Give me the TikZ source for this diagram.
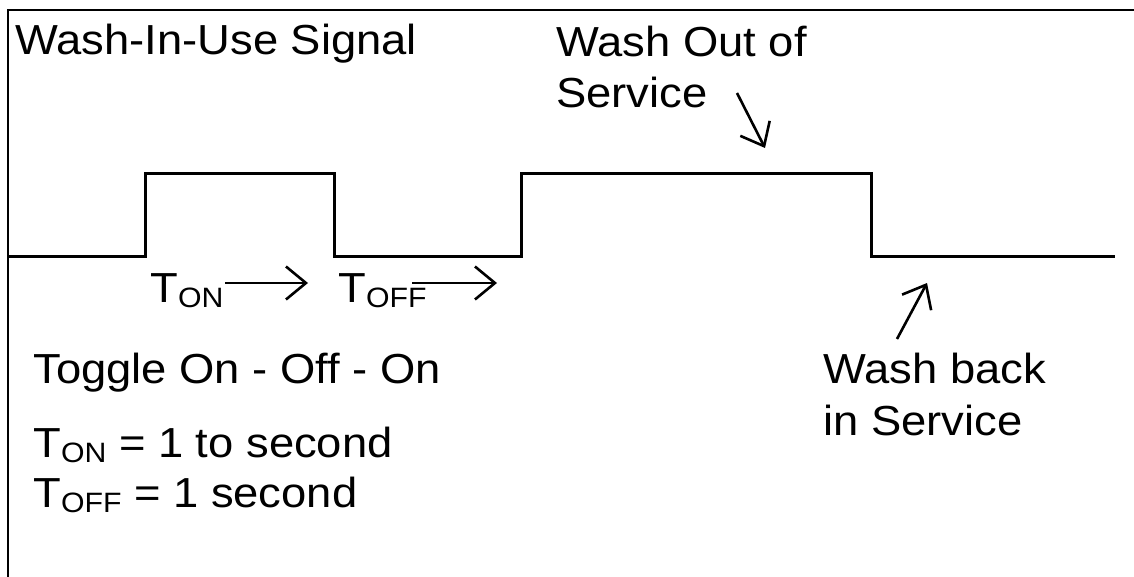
\documentclass[tikz,border=0pt]{standalone}
\usepackage{fontspec}
\setmainfont[FakeStretch=1.08]{Liberation Sans}
\usepackage{tikz}
\usetikzlibrary{arrows.meta}
\newcommand{\lbltxt}{\fontsize{21}{25.5}\selectfont}
\newcommand{\subtxt}[1]{\raisebox{-2.5pt}{\fontsize{14}{14}\selectfont #1}}
\tikzset{
  lbl/.style={anchor=base west, inner sep=0pt, font=\lbltxt},
  wave/.style={line width=1.5pt, line join=miter},
  pointer/.style={line width=1.3pt, -{Straight Barb[length=10pt,width=16.5pt,line width=1.3pt]}}
}

\begin{document}
\begin{tikzpicture}[x=0.5pt,y=-0.5pt]
\useasboundingbox (0,0) rectangle (1134,577);
% frame
\draw[line width=1pt] (8,577) -- (8,10) -- (1134,10);
% signal
\coordinate (s0) at (8,256);
\coordinate (s1) at (145,256);
\coordinate (s2) at (145,174);
\coordinate (s3) at (334,174);
\coordinate (s4) at (334,256);
\coordinate (s5) at (521,256);
\coordinate (s6) at (521,174);
\coordinate (s7) at (871,174);
\coordinate (s8) at (871,256);
\coordinate (s9) at (1115,256);
\draw[wave] (s0) -- (s1) -- (s2) -- (s3) -- (s4) -- (s5) -- (s6) -- (s7) -- (s8) -- (s9);
% labels
\node[lbl] (title) at (15,55) {Wash-In-Use Signal};
\node[lbl] (outa) at (556,57) {Wash Out of};
\node[lbl] (outb) at (556,108) {Service};
\node[lbl] (ton) at (150,302) {T\subtxt{ON}};
\node[lbl] (toff) at (338,302) {T\subtxt{OFF}};
\node[lbl] (toggle) at (33,383) {Toggle On - Off - On};
\node[lbl] (eqon) at (33,457) {T\subtxt{ON} = 1 to second};
\node[lbl] (eqoff) at (33,507) {T\subtxt{OFF} = 1 second};
\node[lbl] (backa) at (823,383) {Wash back};
\node[lbl] (backb) at (823,435) {in Service};
% arrows
\coordinate (a1s) at (225,283);
\coordinate (a1e) at (308,283);
\coordinate (a2s) at (412,283);
\coordinate (a2e) at (497,283);
\coordinate (o1) at (737,93);
\coordinate (o2) at (765,148);
\coordinate (b1) at (897,339);
\coordinate (b2) at (927,283);
\draw[pointer] (a1s) -- (a1e);
\draw[pointer] (a2s) -- (a2e);
\draw[pointer] (o1) -- (o2);
\draw[pointer] (b1) -- (b2);
\end{tikzpicture}
\end{document}
